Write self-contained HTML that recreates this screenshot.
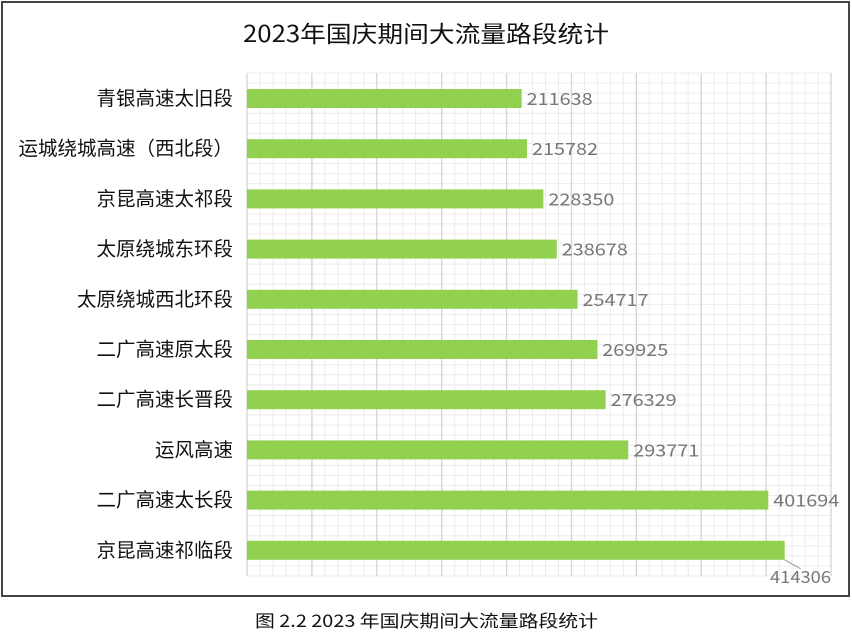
<!DOCTYPE html>
<html><head><meta charset="utf-8"><style>
html,body{margin:0;padding:0;background:#fff;}
svg{display:block;font-family:"Noto Sans CJK SC","Liberation Sans",sans-serif;}
</style></head><body>
<svg width="852" height="636" viewBox="0 0 852 636" xmlns="http://www.w3.org/2000/svg">
<rect x="2" y="2" width="847" height="594" fill="#fff" stroke="#444" stroke-width="2"/>
<text x="243" y="42" font-size="23" fill="#111" textLength="366" lengthAdjust="spacingAndGlyphs">2023年国庆期间大流量路段统计</text>
<g id="grid"></g>
<g id="bars"></g>
<text x="255" y="627" font-size="17" fill="#111" textLength="343" lengthAdjust="spacingAndGlyphs">图 2.2 2023 年国庆期间大流量路段统计</text>
<script>
var g=document.getElementById('grid'),b=document.getElementById('bars'),ns='http://www.w3.org/2000/svg';
function el(p,t,a,txt){var e=document.createElementNS(ns,t);for(var k in a)e.setAttribute(k,a[k]);if(txt)e.textContent=txt;p.appendChild(e);return e;}
var x0=247,sc=584/450000,gTop=73,gBot=576;
for(var y=gTop;y<=gBot+0.5;y+=10.06)el(g,'line',{x1:x0,x2:831,y1:y,y2:y,stroke:'#ececec','stroke-width':1});
for(var i=0;i<=45;i++){var x=x0+i*584/45;el(g,'line',{x1:x,x2:x,y1:gTop,y2:gBot,stroke:i%5==0?'#d4d4d4':'#ececec','stroke-width':i%5==0?1.3:1});}
var d=[["青银高速太旧段",211638],["运城绕城高速（西北段）",215782],["京昆高速太祁段",228350],["太原绕城东环段",238678],["太原绕城西北环段",254717],["二广高速原太段",269925],["二广高速长晋段",276329],["运风高速",293771],["二广高速太长段",401694],["京昆高速祁临段",414306]];
d.forEach(function(r,i){var y=89+i*50.2,w=r[1]*sc;
el(b,'rect',{x:x0,y:y,width:w,height:19,fill:'#92d050'});
el(b,'text',{x:233,y:y+16,'text-anchor':'end','font-size':19.5,fill:'#111'},r[0]);
if(i<9)el(b,'text',{x:x0+w+5,y:y+16,'font-size':17,fill:'#777',textLength:66,lengthAdjust:'spacingAndGlyphs'},String(r[1]));
else{el(b,'line',{x1:x0+w,y1:y+19,x2:x0+w+16,y2:y+28,stroke:'#999'});el(b,'text',{x:770,y:y+42,'font-size':17,fill:'#777',textLength:61,lengthAdjust:'spacingAndGlyphs'},String(r[1]));}
});
</script>
</svg>
</body></html>
